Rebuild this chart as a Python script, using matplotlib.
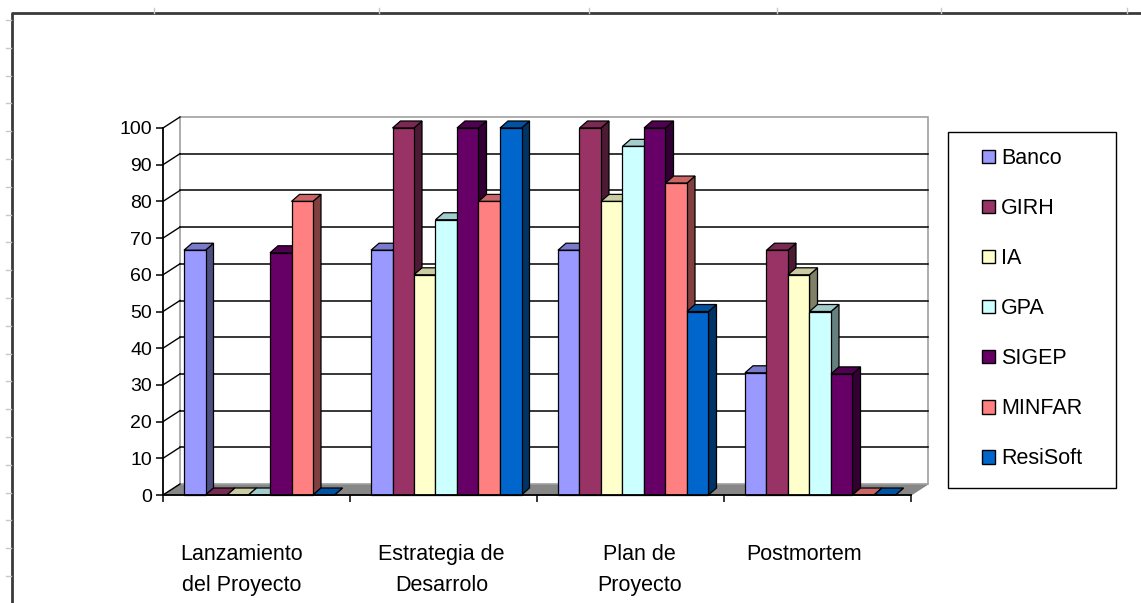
import numpy as np
import matplotlib.pyplot as plt
from matplotlib.patches import Polygon, Rectangle, Patch
from matplotlib.lines import Line2D

plt.rcParams['font.family'] = ['Liberation Sans', 'DejaVu Sans']

# data
categories = ['Lanzamiento\ndel Proyecto', 'Estrategia de\nDesarrolo', 'Plan de\nProyecto', 'Postmortem']
series = ['Banco', 'GIRH', 'IA', 'GPA', 'SIGEP', 'MINFAR', 'ResiSoft']
banco = [66.7, 66.7, 66.7, 33.3]
girh = [0, 100, 100, 66.7]
ia = [0, 60, 80, 60]
gpa = [0, 75, 95, 50]
sigep = [66, 100, 100, 33]
minfar = [80, 80, 85, 0]
resisoft = [0, 100, 50, 0]
values = [banco, girh, ia, gpa, sigep, minfar, resisoft]
colors = ['#9999ff', '#993366', '#ffffcc', '#ccffff', '#660066', '#ff8080', '#0066cc']
yticks = list(range(0, 101, 10))


def shade(c, f):
    r, g, b = [int(c[i:i + 2], 16) / 255 for i in (1, 3, 5)]
    return (r * f, g * f, b * f)


def face(ax, pts, fc, z, ec='black', lw=0.9):
    ax.add_patch(Polygon(pts, closed=True, facecolor=fc, edgecolor=ec,
                         linewidth=lw, zorder=z, clip_on=False))


W, H = 1141, 603
fig = plt.figure(figsize=(W / 100, H / 100), dpi=100)

# pixel layout of the plot area
x0px, y0px = 163, 495
ux, uy = 187.0, 3.67
right_px, top_px = 945, 105
ax = fig.add_axes([x0px / W, (H - y0px) / H, (right_px - x0px) / W, (y0px - top_px) / H])
ax.set_xlim(0, (right_px - x0px) / ux)
ax.set_ylim(0, (y0px - top_px) / uy)
ax.patch.set_visible(False)

ncat = len(categories)
wdx, wdy = 17 / ux, 11 / uy      # wall depth
bdx, bdy = 8 / ux, 7 / uy        # bar depth
bw = 21.5 / ux                   # bar width
off = 21 / ux                    # gap before first bar

# floor
face(ax, [(0, 0), (ncat, 0), (ncat + wdx, wdy), (wdx, wdy)], '#878787', 1, ec='#878787')
# back wall
ax.add_patch(Rectangle((wdx, wdy), ncat, 100, facecolor='white', edgecolor='#a0a0a0',
                       linewidth=1.2, zorder=1.1, clip_on=False))
for v in yticks[1:-1]:
    ax.plot([wdx, ncat + wdx], [v + wdy, v + wdy], color='black', lw=1.1, zorder=1.2)
for v in yticks:
    ax.plot([0, wdx], [v, v + wdy], color='black', lw=1.0, zorder=1.2, clip_on=False)

# bars
for i in range(ncat):
    for j, (vals, c) in enumerate(zip(values, colors)):
        v = vals[i]
        x = i + off + j * bw
        z = 3 + i * 10 + j
        face(ax, [(x + bw, 0), (x + bw + bdx, bdy), (x + bw + bdx, v + bdy), (x + bw, v)],
             shade(c, 0.5), z)
        face(ax, [(x, v), (x + bw, v), (x + bw + bdx, v + bdy), (x + bdx, v + bdy)],
             shade(c, 0.8), z)
        if v > 0:
            face(ax, [(x, 0), (x + bw, 0), (x + bw, v), (x, v)], c, z)

# axes
for s in ('top', 'right'):
    ax.spines[s].set_visible(False)
ax.spines['left'].set_bounds(0, 100)
ax.spines['bottom'].set_bounds(0, ncat)
for s in ('left', 'bottom'):
    ax.spines[s].set_linewidth(1.3)
    ax.spines[s].set_zorder(100)
ax.set_yticks(yticks)
ax.tick_params(axis='y', direction='out', length=5, width=1.1, labelsize=14, pad=3)
ax.set_xticks(range(ncat + 1))
ax.set_xticklabels([])
ax.tick_params(axis='x', which='major', direction='out', length=5, width=1.1)
label_pos = [0.42, 0.49, 0.55, 0.43]
ax.set_xticks([i + p for i, p in enumerate(label_pos)], minor=True)
ax.set_xticklabels(categories, minor=True)
ax.tick_params(axis='x', which='minor', length=0, pad=35, labelsize=15.5)
for lbl in ax.get_xticklabels(minor=True):
    lbl.set_linespacing(1.65)

# legend
handles = [Patch(facecolor=c, edgecolor='black', linewidth=1) for c in colors]
fig.legend(handles, series, loc='upper left', bbox_to_anchor=(982 / W, 1 - 148 / H),
           frameon=False, fontsize=15.5, handlelength=0.6, handleheight=0.6,
           handletextpad=0.3, labelspacing=1.35, borderpad=0, borderaxespad=0)
fig.add_artist(Rectangle((948 / W, 1 - 488 / H), 168 / W, 356 / H, transform=fig.transFigure,
                         fill=False, edgecolor='black', linewidth=1))

# page frame and ruler marks
fig.add_artist(Line2D([12 / W, 12 / W, 1], [0, 1 - 13 / H, 1 - 13 / H], transform=fig.transFigure,
                      color='#3a3a3a', linewidth=2))
for xp in [154, 379, 589, 777, 941, 1127]:
    fig.add_artist(Line2D([xp / W, xp / W], [1 - 8 / H, 1 - 13 / H], transform=fig.transFigure,
                          color='#c8c8c8', linewidth=1))
for yp in np.arange(20, H, 27.8):
    fig.add_artist(Line2D([6 / W, 11 / W], [1 - yp / H, 1 - yp / H], transform=fig.transFigure,
                          color='#c8c8c8', linewidth=1))

fig.savefig('out.png', dpi=100, facecolor='white')
